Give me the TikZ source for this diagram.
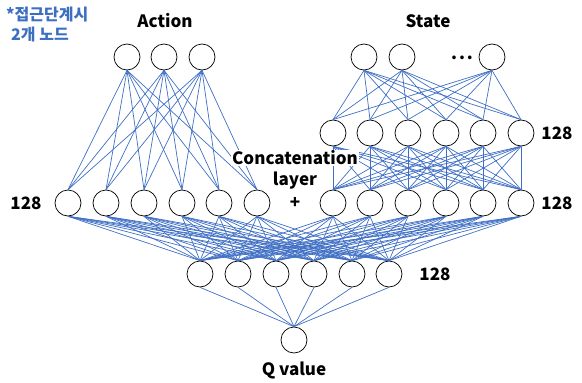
\documentclass[tikz,border=0pt]{standalone}
\usepackage{fontspec}
\setmainfont{Noto Sans CJK KR}
\definecolor{edgeblue}{HTML}{3F6FC4}
\definecolor{notecol}{HTML}{3C6FC0}
\begin{document}
\begin{tikzpicture}[x=1pt,y=-1pt,
  neuron/.style={circle,draw=black,line width=0.7pt,fill=white,minimum size=26pt,inner sep=0pt},
  conn/.style={draw=edgeblue,line width=0.7pt},
  lbl/.style={font=\bfseries\fontsize{17}{20}\selectfont,inner sep=0pt},
  catlbl/.style={font=\bfseries\fontsize{17}{20}\selectfont,fill=white,inner sep=1pt},
  note/.style={font=\bfseries\fontsize{16}{18}\selectfont,text=notecol,inner sep=0pt,anchor=west}]
\useasboundingbox (0,0) rectangle (582,383);
% nodes
\foreach \i/\x in {1/127,2/164,3/202} \node[neuron] (a\i) at (\x,57) {};
\foreach \i/\x in {1/364,2/402,3/492} \node[neuron] (s\i) at (\x,57) {};
\foreach \i/\x in {1/333,2/370,3/408,4/446,5/483,6/521} \node[neuron] (h\i) at (\x,133) {};
\foreach \i/\x in {1/68,2/106,3/144,4/182,5/219,6/257} \node[neuron] (l\i) at (\x,203) {};
\foreach \i/\x in {1/333,2/370,3/408,4/446,5/483,6/521} \node[neuron] (r\i) at (\x,203) {};
\foreach \i/\x in {1/200,2/238,3/276,4/314,5/352,6/389} \node[neuron] (b\i) at (\x,274) {};
\node[neuron] (q) at (294,340) {};
% connections
\foreach \i in {1,2,3} \foreach \j in {1,...,6} {
  \draw[conn] (a\i.south) -- (l\j.north);
  \draw[conn] (s\i.south) -- (h\j.north);
}
\foreach \i in {1,...,6} \foreach \j in {1,...,6} {
  \draw[conn] (h\i.south) -- (r\j.north);
  \draw[conn] (l\i.south) -- (b\j.north);
  \draw[conn] (r\i.south) -- (b\j.north);
}
\foreach \i in {1,...,6} \draw[conn] (b\i.south) -- (q.north);
% labels
\node[lbl] (tact) at (165,21) {Action};
\node[lbl] (tstate) at (428,21) {State};
\node[lbl] (tdots) at (462,58) {.\kern2pt.\kern2pt.};
\node[lbl] (tl) at (26,203) {128};
\node[lbl] (th) at (557,133) {128};
\node[lbl] (tr) at (557,203) {128};
\node[lbl] (tb) at (435,274) {128};
\node[lbl] (tq) at (294,370) {Q value};
\node[catlbl] (c1) at (295,158) {Concatenation};
\node[catlbl] (c2) at (295,181) {layer};
\node[catlbl] (c3) at (295,203) {+};
\node[note] (n1) at (6,15) {*접근단계시};
\node[note] (n2) at (11,34) {2개 노드};
\end{tikzpicture}
\end{document}
